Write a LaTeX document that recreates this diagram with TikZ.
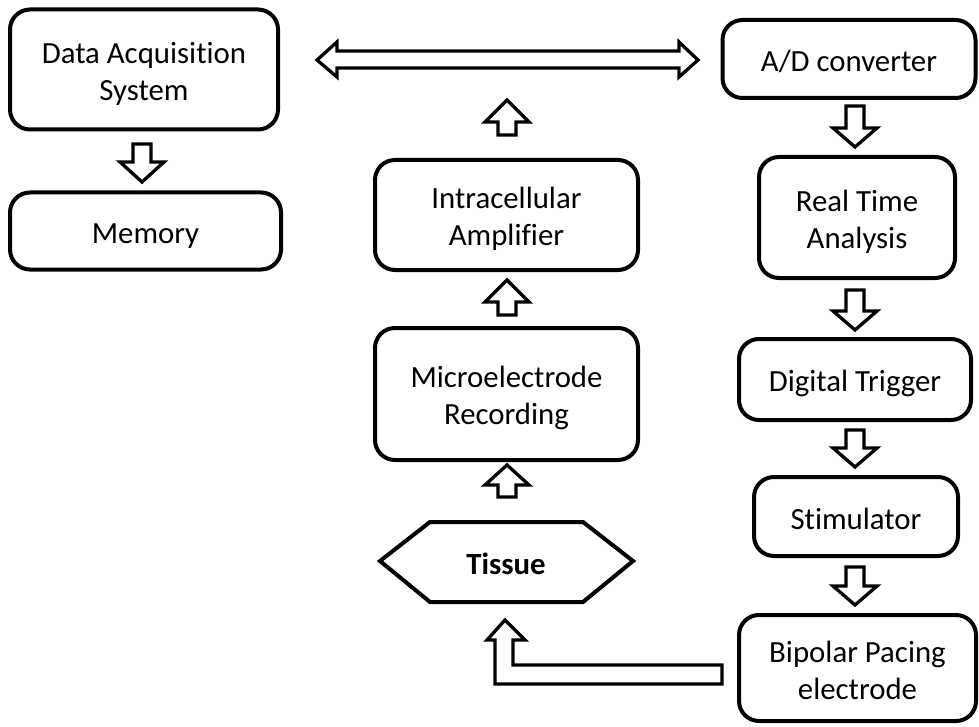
\documentclass[tikz,border=0pt]{standalone}
\usepackage{fontspec}
\setmainfont{Carlito}[Ligatures=NoCommon]
\newcommand{\st}{\rule[-3pt]{0pt}{32pt}}
\begin{document}
\begin{tikzpicture}[x=1pt,y=-1pt,
  box/.style={draw=black,line width=4pt,rounded corners=20pt,align=center,inner sep=0pt,
    font=\fontsize{30.8}{37}\selectfont},
  barrow/.style={draw=black,line width=3.3pt,line join=miter,fill=white}]
\useasboundingbox (0,0) rectangle (979,727);
% boxes
\node[box,minimum width=268,minimum height=120] (das) at (144,69.5) {\st Data Acquisition\\\st System};
\node[box,minimum width=271,minimum height=77] (mem) at (145.5,231) {\st Memory};
\node[box,minimum width=253,minimum height=78] (ad) at (849,59) {\st A/D converter};
\node[box,minimum width=196,minimum height=121] (rta) at (857,217.5) {\st Real Time\\\st Analysis};
\node[box,minimum width=232,minimum height=81] (dt) at (855,379.5) {\st Digital Trigger};
\node[box,minimum width=204,minimum height=79] (stim) at (856,516.5) {\st Stimulator};
\node[box,minimum width=237,minimum height=106] (bpe) at (857.5,668) {\st Bipolar Pacing\\\st electrode};
\node[box,minimum width=263,minimum height=110] (ia) at (506.5,215) {\st Intracellular\\\st Amplifier};
\node[box,minimum width=263,minimum height=132] (mr) at (506.5,394) {\st Microelectrode\\\st Recording};
\draw[line width=4pt,line join=miter] (380,561) -- (430,522) -- (583,522) -- (633,561) -- (583,602) -- (430,602) -- cycle;
\node[font=\fontsize{30.8}{37}\selectfont\bfseries,inner sep=0pt] (tis) at (506,561) {\st Tissue};
% block arrows: centre x, shaft end, head base, tip
\newcommand{\dnarr}[4]{\draw[barrow] (#1-9,#2) -- (#1+9,#2) -- (#1+9,#3) -- (#1+22,#3) -- (#1,#4) -- (#1-22,#3) -- (#1-9,#3) -- cycle;}
\newcommand{\uparr}[4]{\draw[barrow] (#1-9,#2) -- (#1+9,#2) -- (#1+9,#3) -- (#1+22,#3) -- (#1,#4) -- (#1-22,#3) -- (#1-9,#3) -- cycle;}
\dnarr{142}{144}{162}{182}
\dnarr{855}{106}{128}{147}
\dnarr{855}{290}{311}{330}
\dnarr{855}{430}{448}{467}
\dnarr{855}{567}{586}{605}
\uparr{507}{135}{122}{100}
\uparr{507}{315}{302}{280}
\uparr{507}{497}{485}{465}
\draw[barrow] (317,60) -- (337,42) -- (337,51) -- (679,51) -- (679,42) -- (698,60) -- (679,77) -- (679,68) -- (337,68) -- (337,77) -- cycle;
\draw[barrow] (505,620) -- (525,640) -- (513,640) -- (513,665) -- (722,665) -- (722,684) -- (495,684) -- (495,640) -- (487,640) -- cycle;
\end{tikzpicture}
\end{document}
